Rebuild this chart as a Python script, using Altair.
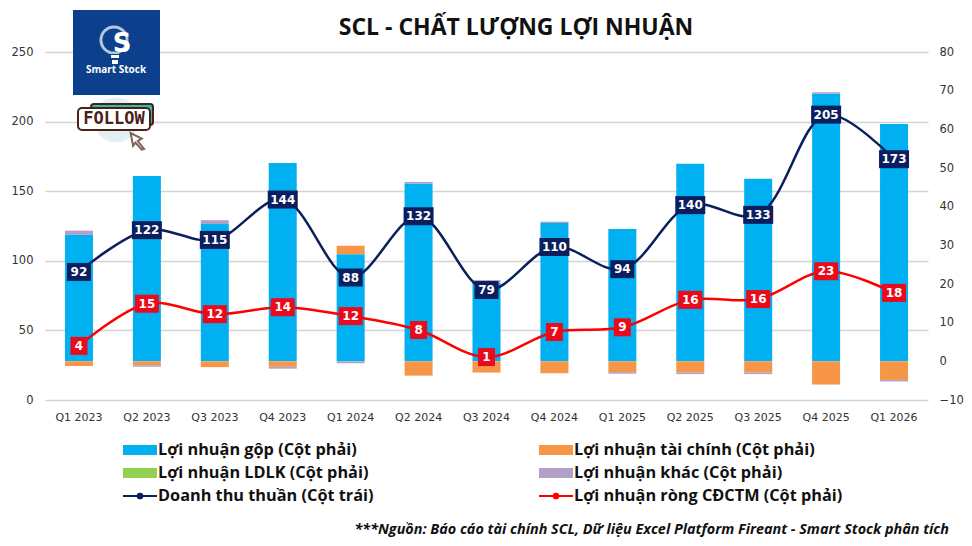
import altair as alt
import pandas as pd

quarters = ["Q1 2023","Q2 2023","Q3 2023","Q4 2023","Q1 2024","Q2 2024","Q3 2024","Q4 2024","Q1 2025","Q2 2025","Q3 2025","Q4 2025","Q1 2026"]
gross = [32.7,47.9,35.5,51.3,27.7,46.0,20.4,35.8,34.2,51.1,47.2,69.2,61.4]
finance = [-1.2,-1.0,-1.5,-1.4,2.2,-3.7,-2.9,-3.1,-2.8,-2.9,-2.9,-6.0,-4.8]
ldlk = [0,0,0,0,0,0,0,0,0,0,0,0,0]
other = [1.1,-0.4,1.0,-0.5,-0.5,0.4,0.6,0.3,-0.4,-0.4,-0.4,0.4,-0.4]
revenue = [92,122,115,144,88,132,79,110,94,140,133,205,173]
net = [4.0,14.9,12.2,14.0,11.7,8.1,1.1,7.6,8.8,15.9,16.1,23.3,17.7]
net_labels = [4,15,12,14,12,8,1,7,9,16,16,23,18]

series_names = ["Lợi nhuận gộp (Cột phải)","Lợi nhuận tài chính (Cột phải)","Lợi nhuận LDLK (Cột phải)","Lợi nhuận khác (Cột phải)"]
series_colors = ["#00b0f0","#f79646","#92d050","#b1a0c7"]
NAVY = "#0b1f5e"
RED = "#ff0000"
LEFT = [0,250]
RIGHT = [-10,80]
FONT = "DejaVu Sans"
LEG = "Open Sans"

rows = []
for i,q in enumerate(quarters):
    for k,vals in enumerate([gross,finance,ldlk,other]):
        rows.append({"q":q,"s":series_names[k],"k":k,"v":vals[i]})
bars = pd.DataFrame(rows)
df = pd.DataFrame({"q":quarters,"rev":revenue,"net":net,"lab":net_labels,"revs":[str(v) for v in revenue],"labs":[str(v) for v in net_labels]})

X = alt.X("q:N", sort=quarters, scale=alt.Scale(type="band",paddingInner=0,paddingOuter=0),
          axis=alt.Axis(title=None,labelAngle=0,ticks=False,domain=False,grid=False,labelFont=FONT,labelFontSize=11,labelColor="#333333",labelPadding=11))
yL = alt.Scale(domain=LEFT,nice=False,zero=False)
yR = alt.Scale(domain=RIGHT,nice=False,zero=False)

layers = []
layers.append(alt.Chart(df).mark_point(opacity=0).encode(
    x=X, y=alt.Y("rev:Q",scale=yL,axis=alt.Axis(title=None,orient="left",values=[0,50,100,150,200,250],grid=True,gridColor="#d4d4d4",gridWidth=1.6,ticks=False,domain=False,labelFont=FONT,labelFontSize=11.5,labelColor="#333333",labelPadding=12))))
layers.append(alt.Chart(bars).mark_bar(size=28).encode(
    x=X,
    y=alt.Y("v:Q",stack="zero",scale=yR,axis=alt.Axis(title=None,orient="right",values=list(range(-10,81,10)),grid=False,ticks=False,domain=False,labelFont=FONT,labelFontSize=11.5,labelColor="#333333",labelPadding=11)),
    color=alt.Color("s:N",scale=alt.Scale(domain=series_names,range=series_colors),legend=None),
    order=alt.Order("k:Q")))
layers.append(alt.Chart(df).mark_line(color=NAVY,strokeWidth=2.5,interpolate="catmull-rom").encode(x=X,y=alt.Y("rev:Q",scale=yL,axis=None)))
layers.append(alt.Chart(df).mark_line(color=RED,strokeWidth=2.5,interpolate="catmull-rom").encode(x=X,y=alt.Y("net:Q",scale=yR,axis=None)))

for digits,w in [(2,24),(3,30)]:
    layers.append(alt.Chart(df[df.revs.str.len()==digits]).mark_rect(color=NAVY,width=w,height=18).encode(x=X,y=alt.Y("rev:Q",scale=yL,axis=None)))
for digits,w in [(1,17),(2,24)]:
    layers.append(alt.Chart(df[df.labs.str.len()==digits]).mark_rect(color="#ea0a1c",width=w,height=18).encode(x=X,y=alt.Y("net:Q",scale=yR,axis=None)))
layers.append(alt.Chart(df).mark_text(color="white",font=FONT,fontWeight="bold",fontSize=12).encode(x=X,y=alt.Y("rev:Q",scale=yL,axis=None),text="revs:N"))
layers.append(alt.Chart(df).mark_text(color="white",font=FONT,fontWeight="bold",fontSize=12).encode(x=X,y=alt.Y("net:Q",scale=yR,axis=None),text="labs:N"))

OX,OY = 45,52
one = {"values":[{}]}
def text(s,x,y,**kw):
    return alt.Chart(one).mark_text(text=s,**kw).encode(x=alt.value(x-OX),y=alt.value(y-OY))
def rect(x0,y0,x1,y1,**kw):
    return alt.Chart(one).mark_rect(**kw).encode(x=alt.value(x0-OX),x2=alt.value(x1-OX),y=alt.value(y0-OY),y2=alt.value(y1-OY))
def pt(x,y,size,**kw):
    return alt.Chart(one).mark_point(**kw).encode(x=alt.value(x-OX),y=alt.value(y-OY),size=alt.value(size))

# title
layers.append(text("SCL - CHẤT LƯỢNG LỢI NHUẬN",516,28,font="Open Sans",fontWeight="bold",fontSize=23,color="#111111",align="center",baseline="middle"))

# logo
layers.append(rect(73,10,160,95,color="#0c3f8c"))
layers.append(pt(114,40,680,shape="circle",filled=False,stroke="white",strokeWidth=3))
layers.append(rect(110,54,120,64,color="#0c3f8c"))
layers.append(rect(111,55,119,58,color="white"))
layers.append(rect(112,60,118,64,color="white"))
layers.append(text("S",122,44,font=FONT,fontWeight="bold",fontSize=26,color="white",align="center",baseline="middle"))
layers.append(text("Smart Stock",116,70,font="Open Sans",fontWeight="bold",fontSize=10,color="white",align="center",baseline="middle"))
# follow button
layers.append(pt(116,120,2000,shape="circle",filled=True,fill="#e3eff5",stroke=None,opacity=1))
layers.append(rect(91,104,153,125,color="#2fbfa8",stroke="#4a2018",strokeWidth=2,cornerRadius=3))
layers.append(rect(78,108,150,130,color="white",stroke="#4a2018",strokeWidth=2,cornerRadius=4))
layers.append(text("FOLLOW",114,119,font="DejaVu Sans Mono",fontWeight="bold",fontSize=17,color="#4a2018",align="center",baseline="middle"))
layers.append(pt(137,141,1000,shape="M-0.4,-0.5 L0.3,-0.15 L0.05,0 L0.45,0.5 L0.3,0.55 L-0.1,0.1 L-0.25,0.3 Z",filled=True,fill="white",stroke="#4a2018",strokeWidth=2))

# legend
lx = [123,539]
lrows = [450,473,496]
for c,r,name,col in [(0,0,series_names[0],series_colors[0]),(1,0,series_names[1],series_colors[1]),(0,1,series_names[2],series_colors[2]),(1,1,series_names[3],series_colors[3])]:
    layers.append(rect(lx[c],lrows[r]-5,lx[c]+34,lrows[r]+5,color=col))
    layers.append(text(name,lx[c]+35,lrows[r],font=LEG,fontWeight="bold",fontSize=16.3,color="#111111",align="left",baseline="middle"))
for c,name,col in [(0,"Doanh thu thuần (Cột trái)",NAVY),(1,"Lợi nhuận ròng CĐCTM (Cột phải)",RED)]:
    layers.append(rect(lx[c],lrows[2]-1,lx[c]+34,lrows[2]+1,color=col))
    layers.append(pt(lx[c]+17,lrows[2],45,shape="circle",filled=True,fill=col,stroke=None,opacity=1))
    layers.append(text(name,lx[c]+35,lrows[2],font=LEG,fontWeight="bold",fontSize=16.3,color="#111111",align="left",baseline="middle"))
layers.append(text("***Nguồn: Báo cáo tài chính SCL, Dữ liệu Excel Platform Fireant - Smart Stock phân tích",949,530,font="Open Sans",fontWeight="bold",fontStyle="italic",fontSize=14.4,color="#111111",align="right",baseline="middle"))

chart = alt.layer(*layers).resolve_scale(y="independent").properties(
    width=883,height=348,padding={"left":37,"top":44,"right":36,"bottom":146},
    autosize=alt.AutoSizeParams(type="none"),background="white",
).configure_view(stroke=None)
chart.save("out.html", embed_options={"renderer": "svg", "actions": False})
